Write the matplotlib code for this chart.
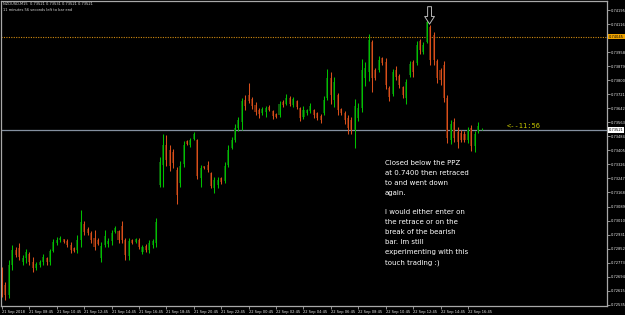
import matplotlib
matplotlib.use('Agg')
import matplotlib.pyplot as plt

# NZDUSD M15 candles (21 Sep 06:45 .. 22 Sep 17:45)
opens = [0.72732, 0.72648, 0.72592, 0.72760, 0.72845, 0.72856, 0.72777, 0.72800, 0.72822, 0.72777,
         0.72743, 0.72760, 0.72777, 0.72800, 0.72777, 0.72839, 0.72884, 0.72901, 0.72907, 0.72895,
         0.72873, 0.72856, 0.72845, 0.72901, 0.72991, 0.72963, 0.72941, 0.72912, 0.72901, 0.72800,
         0.72873, 0.72879, 0.72895, 0.72946, 0.72952, 0.72980, 0.72901, 0.72811, 0.72901, 0.72890,
         0.72901, 0.72834, 0.72867, 0.72845, 0.72873, 0.72884, 0.73211, 0.73323, 0.73436, 0.73407,
         0.73396, 0.73295, 0.73222, 0.73329, 0.73458, 0.73436, 0.73469, 0.73464, 0.73250, 0.73318,
         0.73323, 0.73278, 0.73194, 0.73211, 0.73250, 0.73233, 0.73323, 0.73419, 0.73464, 0.73531,
         0.73565, 0.73689, 0.73717, 0.73695, 0.73661, 0.73632, 0.73616, 0.73621, 0.73650, 0.73627,
         0.73610, 0.73604, 0.73678, 0.73667, 0.73700, 0.73661, 0.73683, 0.73644, 0.73593, 0.73616,
         0.73627, 0.73632, 0.73616, 0.73599, 0.73616, 0.73700, 0.73812, 0.73689, 0.73717, 0.73638,
         0.73616, 0.73587, 0.73576, 0.73520, 0.73587, 0.73644, 0.73812, 0.73846, 0.74015, 0.73857,
         0.73857, 0.73925, 0.73902, 0.73756, 0.73723, 0.73857, 0.73824, 0.73762, 0.73700, 0.73829,
         0.73902, 0.73897, 0.74020, 0.73959, 0.74015, 0.74100, 0.74054, 0.73908, 0.73857, 0.73886,
         0.73700, 0.73464, 0.73565, 0.73509, 0.73503, 0.73497, 0.73464, 0.73531, 0.73430, 0.73514,
         0.73521]
highs = [0.72749, 0.72665, 0.72788, 0.72873, 0.72862, 0.72884, 0.72817, 0.72850, 0.72834, 0.72805,
         0.72777, 0.72788, 0.72822, 0.72805, 0.72850, 0.72907, 0.72918, 0.72924, 0.72907, 0.72907,
         0.72890, 0.72862, 0.72929, 0.73070, 0.73008, 0.72975, 0.72952, 0.72957, 0.72912, 0.72890,
         0.72957, 0.72912, 0.72957, 0.72980, 0.72957, 0.73008, 0.72912, 0.72912, 0.72907, 0.72912,
         0.72912, 0.72873, 0.72879, 0.72901, 0.72907, 0.73025, 0.73368, 0.73497, 0.73492, 0.73436,
         0.73413, 0.73312, 0.73346, 0.73458, 0.73464, 0.73475, 0.73509, 0.73469, 0.73323, 0.73318,
         0.73346, 0.73284, 0.73256, 0.73256, 0.73256, 0.73340, 0.73436, 0.73481, 0.73554, 0.73593,
         0.73700, 0.73717, 0.73784, 0.73706, 0.73678, 0.73644, 0.73650, 0.73655, 0.73661, 0.73632,
         0.73616, 0.73683, 0.73689, 0.73723, 0.73711, 0.73706, 0.73689, 0.73650, 0.73655, 0.73638,
         0.73672, 0.73638, 0.73621, 0.73610, 0.73711, 0.73863, 0.73846, 0.73818, 0.73728, 0.73644,
         0.73627, 0.73604, 0.73593, 0.73695, 0.73672, 0.73919, 0.73902, 0.74060, 0.74026, 0.73869,
         0.73936, 0.73930, 0.73925, 0.73768, 0.73863, 0.73880, 0.73835, 0.73768, 0.73807, 0.73908,
         0.73914, 0.74020, 0.74031, 0.74015, 0.74150, 0.74111, 0.74071, 0.73919, 0.73869, 0.73908,
         0.73717, 0.73576, 0.73587, 0.73537, 0.73520, 0.73514, 0.73537, 0.73548, 0.73514, 0.73565,
         0.73531]
lows = [0.72580, 0.72563, 0.72575, 0.72732, 0.72805, 0.72788, 0.72760, 0.72772, 0.72760, 0.72721,
        0.72732, 0.72749, 0.72760, 0.72760, 0.72760, 0.72834, 0.72873, 0.72890, 0.72884, 0.72862,
        0.72828, 0.72834, 0.72828, 0.72862, 0.72929, 0.72929, 0.72884, 0.72845, 0.72873, 0.72777,
        0.72862, 0.72862, 0.72873, 0.72941, 0.72884, 0.72884, 0.72788, 0.72788, 0.72879, 0.72884,
        0.72850, 0.72822, 0.72834, 0.72828, 0.72856, 0.72862, 0.73199, 0.73199, 0.73318, 0.73290,
        0.73306, 0.73104, 0.73199, 0.73312, 0.73436, 0.73424, 0.73464, 0.73244, 0.73199, 0.73301,
        0.73284, 0.73194, 0.73166, 0.73194, 0.73216, 0.73222, 0.73312, 0.73413, 0.73452, 0.73514,
        0.73520, 0.73632, 0.73672, 0.73638, 0.73604, 0.73587, 0.73604, 0.73593, 0.73627, 0.73582,
        0.73587, 0.73593, 0.73650, 0.73661, 0.73655, 0.73650, 0.73638, 0.73571, 0.73582, 0.73604,
        0.73616, 0.73587, 0.73576, 0.73559, 0.73604, 0.73689, 0.73667, 0.73650, 0.73604, 0.73604,
        0.73554, 0.73497, 0.73497, 0.73419, 0.73571, 0.73621, 0.73768, 0.73796, 0.73734, 0.73801,
        0.73846, 0.73886, 0.73751, 0.73683, 0.73711, 0.73801, 0.73756, 0.73700, 0.73667, 0.73818,
        0.73818, 0.73886, 0.73947, 0.73947, 0.74009, 0.73886, 0.73886, 0.73784, 0.73773, 0.73678,
        0.73447, 0.73441, 0.73452, 0.73419, 0.73452, 0.73452, 0.73447, 0.73402, 0.73396, 0.73503,
        0.73521]
closes = [0.72648, 0.72592, 0.72760, 0.72845, 0.72817, 0.72805, 0.72800, 0.72834, 0.72777, 0.72743,
          0.72766, 0.72777, 0.72805, 0.72777, 0.72839, 0.72890, 0.72901, 0.72912, 0.72890, 0.72873,
          0.72845, 0.72839, 0.72901, 0.73003, 0.72946, 0.72941, 0.72901, 0.72862, 0.72879, 0.72867,
          0.72924, 0.72895, 0.72941, 0.72969, 0.72901, 0.72901, 0.72817, 0.72895, 0.72884, 0.72907,
          0.72862, 0.72862, 0.72845, 0.72884, 0.72895, 0.73003, 0.73340, 0.73436, 0.73351, 0.73318,
          0.73334, 0.73154, 0.73318, 0.73436, 0.73441, 0.73464, 0.73497, 0.73261, 0.73306, 0.73306,
          0.73295, 0.73205, 0.73239, 0.73239, 0.73228, 0.73318, 0.73407, 0.73464, 0.73531, 0.73576,
          0.73683, 0.73655, 0.73683, 0.73655, 0.73621, 0.73610, 0.73638, 0.73644, 0.73632, 0.73599,
          0.73593, 0.73667, 0.73661, 0.73700, 0.73667, 0.73695, 0.73650, 0.73587, 0.73632, 0.73632,
          0.73655, 0.73604, 0.73587, 0.73576, 0.73689, 0.73812, 0.73717, 0.73790, 0.73632, 0.73616,
          0.73576, 0.73531, 0.73520, 0.73655, 0.73644, 0.73857, 0.73869, 0.74026, 0.73812, 0.73812,
          0.73914, 0.73897, 0.73773, 0.73706, 0.73846, 0.73818, 0.73773, 0.73717, 0.73790, 0.73891,
          0.73846, 0.73998, 0.73970, 0.73998, 0.74128, 0.73914, 0.73914, 0.73812, 0.73801, 0.73700,
          0.73475, 0.73554, 0.73475, 0.73452, 0.73464, 0.73464, 0.73520, 0.73430, 0.73497, 0.73542,
          0.73521]

bid = 0.73521
ppz = 0.74045
price_ticks = [0.74195, 0.74116, 0.73958, 0.73879, 0.73800, 0.73721, 0.73642, 0.73563, 0.73484,
               0.73405, 0.73326, 0.73247, 0.73168, 0.73089, 0.73010, 0.72931, 0.72852, 0.72773,
               0.72694, 0.72615, 0.72535]
time_labels = ['21 Sep 2018', '21 Sep 08:45', '21 Sep 10:45', '21 Sep 12:45', '21 Sep 14:45',
               '21 Sep 16:45', '21 Sep 18:45', '21 Sep 20:45', '21 Sep 22:45', '22 Sep 00:45',
               '22 Sep 02:45', '22 Sep 04:45', '22 Sep 06:45', '22 Sep 08:45', '22 Sep 10:45',
               '22 Sep 12:45', '22 Sep 14:45', '22 Sep 16:45']
bars_per_label = 8
peak_bar = 124

note = ("Closed below the PPZ\nat 0.7400 then retraced\nto and went down\nagain.\n\n"
        "I would either enter on\nthe retrace or on the\nbreak of the bearish\n"
        "bar. Im still\nexperimenting with this\ntouch trading :)")

W, H = 625, 315
fig = plt.figure(figsize=(W / 100, H / 100), dpi=100, facecolor='black')
ax = fig.add_axes([1 / W, 9 / H, 606 / W, 305 / H])
ax.set_facecolor('black')

up_col, dn_col = '#00c000', '#d8501c'
up_body, dn_body = '#0b5a0b', '#6a2408'
x = list(range(len(opens)))
for i in x:
    o, h, l, c = opens[i], highs[i], lows[i], closes[i]
    up = c >= o
    ax.bar(i, max(abs(c - o), 0.00001), bottom=min(o, c), width=0.6,
           color=up_body if up else dn_body, linewidth=0, zorder=2)
    ax.vlines(i, l, h, color=up_col if up else dn_col, lw=0.75, zorder=3)

ax.axhline(ppz, color='#d08a10', lw=0.8, ls=(0, (1, 1.2)), zorder=1)
ax.axhline(bid, color='#8490a0', lw=0.9, zorder=1)

ax.set_xlim(-0.3, 176.6)
ax.set_ylim(0.72529, 0.74246)

for s in ax.spines.values():
    s.set_color('#a8a8a8')
    s.set_linewidth(0.9)

ax.yaxis.tick_right()
ax.set_yticks(price_ticks)
ax.set_yticklabels(['%.5f' % p for p in price_ticks])
ax.tick_params(axis='y', colors='#a8a8a8', labelcolor='#e8e8e8', labelsize=2.6,
               length=2, width=0.6, pad=0.8)
ax.set_xticks([k * bars_per_label for k in range(len(time_labels))])
ax.set_xticklabels(time_labels, ha='left')
ax.tick_params(axis='x', colors='#a8a8a8', labelcolor='#e8e8e8', labelsize=2.6,
               length=2, width=0.6, pad=0.8)

# price markers on the scale
ax.text(1.003, ppz, '%.5f' % ppz, transform=ax.get_yaxis_transform(), fontsize=2.6,
        color='black', va='center', ha='left',
        bbox=dict(boxstyle='square,pad=0.2', fc='#f0a400', ec='none'))
ax.text(1.003, bid, '%.5f' % bid, transform=ax.get_yaxis_transform(), fontsize=2.6,
        color='black', va='center', ha='left',
        bbox=dict(boxstyle='square,pad=0.2', fc='white', ec='none'))

# arrow over the top
ax.annotate('', xy=(peak_bar + 0.8, highs[peak_bar] - 0.00034), xytext=(peak_bar + 0.8, 0.74214),
            arrowprops=dict(arrowstyle='simple,head_length=0.55,head_width=0.7,tail_width=0.28',
                            fc='black', ec='#b8b8b8', lw=0.7, shrinkA=0, shrinkB=0), zorder=5)

ax.text(147.4, bid + 0.00005, '<--11:56', color='#c8c800', fontsize=5,
        family='DejaVu Sans Mono', va='bottom', ha='left')

fig.text(3 / W, 1 - 2 / H, 'NZDUSD,M15  0.73521 0.73531 0.73521 0.73521',
         color='#d8d8d8', fontsize=2.6, va='top', ha='left')
fig.text(3 / W, 1 - 8 / H, '11 minutes 56 seconds left to bar end',
         color='#d8d8d8', fontsize=2.6, va='top', ha='left')

fig.text(385 / W, 1 - 160 / H, note, color='white', fontsize=5, va='top', ha='left',
         linespacing=1.78)

fig.savefig('out.png', dpi=100, facecolor='black')
